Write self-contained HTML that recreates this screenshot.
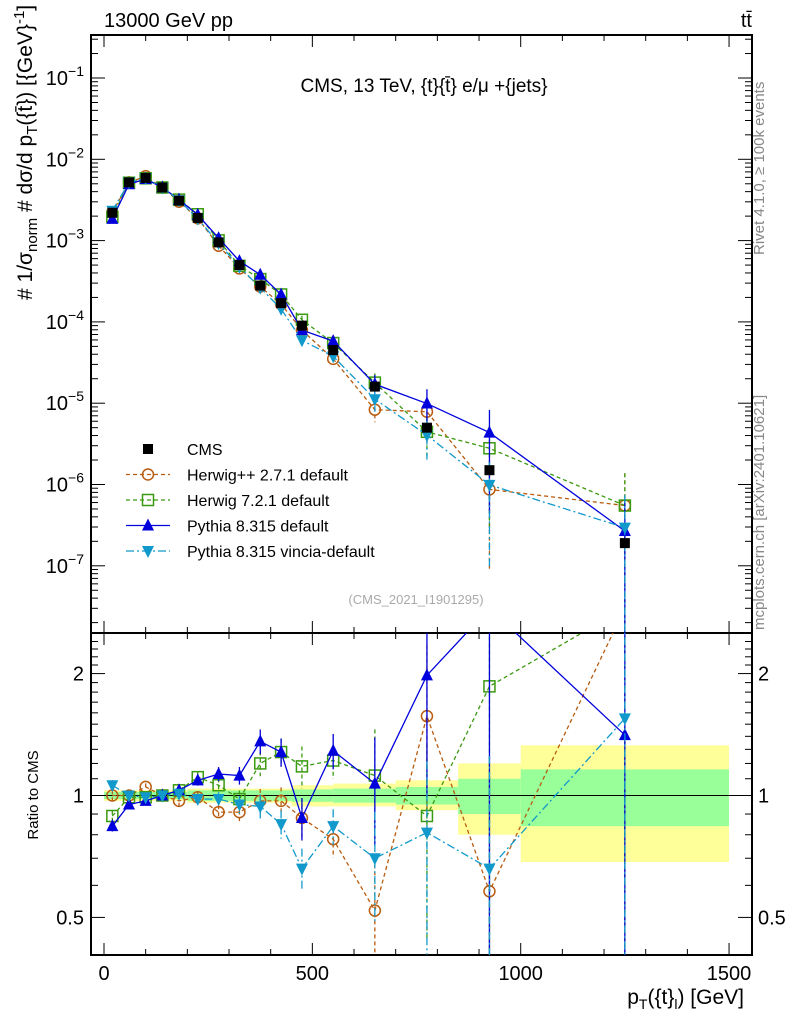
<!DOCTYPE html>
<html><head><meta charset="utf-8"><style>
html,body{margin:0;background:#fff;overflow:hidden;width:786px;height:1024px}
svg{display:block;font-family:"Liberation Sans",sans-serif}
</style></head><body>
<svg id="c" width="786" height="1024" viewBox="0 0 786 1024" xmlns="http://www.w3.org/2000/svg">
<g id="bands"></g>
<g id="grid"></g>
<g id="series"></g>
<text x="104" y="27" font-size="20">13000 GeV pp</text>
<text x="752" y="27" font-size="20" text-anchor="end">tt̄</text>
<text x="424" y="92" font-size="19" text-anchor="middle">CMS, 13 TeV, {t}{t̄} e/μ +{jets}</text>
<text x="416" y="604" font-size="13" fill="#aaa" text-anchor="middle">(CMS_2021_I1901295)</text>
<text transform="translate(764,255) rotate(-90)" font-size="15" fill="#888">Rivet 4.1.0, ≥ 100k events</text>
<text transform="translate(764,630) rotate(-90)" font-size="15" fill="#888">mcplots.cern.ch [arXiv:2401.10621]</text>
<text transform="translate(32,300) rotate(-90)" font-size="21"># 1/σ<tspan font-size="15" dy="5">norm</tspan><tspan dy="-5"> # dσ/d p</tspan><tspan font-size="15" dy="5">T</tspan><tspan dy="-5">({t̄}) [{GeV}</tspan><tspan font-size="15" dy="-8">-1</tspan><tspan dy="8">]</tspan></text>
<text transform="translate(38,795) rotate(-90)" font-size="15" text-anchor="middle">Ratio to CMS</text>
<text x="744" y="1004" font-size="21" text-anchor="end">p<tspan font-size="14" dy="5">T</tspan><tspan dy="-5">({t}</tspan><tspan font-size="14" dy="5">l</tspan><tspan dy="-5">) [GeV]</tspan></text>
<g id="legend"></g>
</svg>
<script>
const xs = [20,60,100,140,180,225,275,325,375,425,475,550,650,775,925,1250];
const cms = [2.2e-3,5.2e-3,5.9e-3,4.5e-3,3.1e-3,1.9e-3,9.5e-4,5.0e-4,2.8e-4,1.7e-4,9e-5,4.5e-5,1.6e-5,5e-6,1.5e-6,1.9e-7];
const rHerwigPP = [1.0,1.0,1.05,1.0,0.97,0.99,0.91,0.91,0.97,0.97,0.88,0.78,0.52,1.57,0.58,2.9];
const rHerwig7 = [0.89,0.99,0.99,1.0,1.03,1.11,1.06,0.98,1.2,1.28,1.18,1.22,1.12,0.89,1.86,2.9];
const rPythia = [0.84,0.95,0.97,1.0,1.03,1.09,1.13,1.12,1.36,1.28,0.88,1.29,1.07,1.98,2.9,1.41];
const rVincia = [1.06,1.0,0.99,1.0,1.01,0.98,0.98,0.95,0.94,0.85,0.66,0.84,0.70,0.81,0.66,1.55];
const errRel = [0.03,0.02,0.02,0.02,0.03,0.03,0.04,0.05,0.07,0.08,0.12,0.1,0.3,0.5,0.9,1.5];
const bandEdges = [0,200,450,550,700,850,1000,1500];
const bandYellowHi = [1.03,1.04,1.06,1.07,1.09,1.2,1.33];
const bandYellowLo = [0.97,0.96,0.94,0.94,0.92,0.8,0.685];
const bandGreenHi = [1.02,1.03,1.035,1.04,1.05,1.1,1.16];
const bandGreenLo = [0.98,0.97,0.965,0.96,0.95,0.9,0.84];
const xTicks = [0,500,1000,1500];
const yDecades = [-7,-6,-5,-4,-3,-2,-1];
const rTicks = [0.5,1,2];

const NS="http://www.w3.org/2000/svg";
const L=91,R=752,T=35,MB=633,B=955;
const X=v=>104+v*0.4167;
const Y=v=>78+(-1-Math.log10(v))*81.3;
const RY=v=>795.5-Math.log10(v)*405;
function mk(tag,attrs,parent){const e=document.createElementNS(NS,tag);for(const k in attrs)e.setAttribute(k,attrs[k]);document.getElementById(parent).appendChild(e);return e;}

for(let i=0;i<bandYellowHi.length;i++){
  const x1=X(bandEdges[i]),x2=X(bandEdges[i+1]);
  let e=mk('rect',{x:x1,y:RY(bandYellowHi[i]),width:x2-x1,height:RY(bandYellowLo[i])-RY(bandYellowHi[i]),fill:'#ffff99'},'bands');
  
  
  e=mk('rect',{x:x1,y:RY(bandGreenHi[i]),width:x2-x1,height:RY(bandGreenLo[i])-RY(bandGreenHi[i]),fill:'#99ff99'},'bands');
  
  
}
mk('rect',{x:L,y:T,width:R-L,height:MB-T,fill:'none',stroke:'#000','stroke-width':2},'grid');
mk('rect',{x:L,y:MB,width:R-L,height:B-MB,fill:'none',stroke:'#000','stroke-width':2},'grid');
mk('line',{x1:L,x2:R,y1:RY(1),y2:RY(1),stroke:'#000','stroke-width':1},'grid');
for(let v=0;v<=1550;v+=100){
  const big=v%500===0,x=X(v);if(x>R)break;
  for(const [y0,d] of [[T,1],[MB,-1],[MB,1],[B,-1]]){
    mk('line',{x1:x,x2:x,y1:y0,y2:y0+d*(big?12:6),stroke:'#000'},'grid');
  }
}
xTicks.forEach(v=>{const t=mk('text',{x:X(v),y:980,'font-size':20,'text-anchor':'middle'},'grid');t.textContent=v;

});
for(let d=-8;d<=-1;d++){
  for(let m=1;m<10;m++){
    const y=Y(m*Math.pow(10,d));if(y<T||y>MB)continue;
    const w=m===1?14:7;
    mk('line',{x1:L,x2:L+w,y1:y,y2:y,stroke:'#000'},'grid');
    mk('line',{x1:R,x2:R-w,y1:y,y2:y,stroke:'#000'},'grid');
  }
}
yDecades.forEach(d=>{const t=mk('text',{x:84,y:Y(Math.pow(10,d))+7,'font-size':20,'text-anchor':'end'},'grid');
t.innerHTML='10<tspan font-size="14" dy="-9">−'+(-d)+'</tspan>';

});
for(let v=0.4;v<=2.5;v+=0.1){
  const y=RY(v);if(y<MB||y>B)continue;
  const big=[0.5,1,2].some(q=>Math.abs(q-v)<1e-6);
  mk('line',{x1:L,x2:L+(big?14:7),y1:y,y2:y,stroke:'#000'},'grid');
  mk('line',{x1:R,x2:R-(big?14:7),y1:y,y2:y,stroke:'#000'},'grid');
}
rTicks.forEach(v=>{for(const [x,a] of [[84,'end'],[758,'start']]){const t=mk('text',{x:x,y:RY(v)+7,'font-size':20,'text-anchor':a},'grid');t.textContent=v;

}});

const series=[
 {name:'herwigpp',r:rHerwigPP,c:'#b85c10',dash:'4,3',m:'circle',label:'Herwig++ 2.7.1 default'},
 {name:'herwig7',r:rHerwig7,c:'#3a9a10',dash:'4,3',m:'square',label:'Herwig 7.2.1 default'},
 {name:'pythia',r:rPythia,c:'#0000dd',dash:'',m:'up',label:'Pythia 8.315 default'},
 {name:'vincia',r:rVincia,c:'#1199cc',dash:'8,3,2,3',m:'down',label:'Pythia 8.315 vincia-default'}
];
function marker(m,x,y,c,g,nm){
  let e;
  if(m==='circle')e=mk('circle',{cx:x,cy:y,r:5.5,fill:'none',stroke:c,'stroke-width':1.5},g);
  else if(m==='square')e=mk('rect',{x:x-5.5,y:y-5.5,width:11,height:11,fill:'none',stroke:c,'stroke-width':1.5},g);
  else if(m==='up')e=mk('path',{d:`M${x},${y-7}L${x+6},${y+5}L${x-6},${y+5}Z`,fill:c},g);
  else if(m==='down')e=mk('path',{d:`M${x},${y+7}L${x+6},${y-5}L${x-6},${y-5}Z`,fill:c},g);
  else e=mk('rect',{x:x-5,y:y-5,width:10,height:10,fill:c},g);
  
  
}
const clip=mk('clipPath',{id:'cm'},'series');const cr=document.createElementNS(NS,'rect');cr.setAttribute('x',L);cr.setAttribute('y',T);cr.setAttribute('width',R-L);cr.setAttribute('height',MB-T);clip.appendChild(cr);
const clip2=mk('clipPath',{id:'cr'},'series');const cr2=document.createElementNS(NS,'rect');cr2.setAttribute('x',L);cr2.setAttribute('y',MB);cr2.setAttribute('width',R-L);cr2.setAttribute('height',B-MB);clip2.appendChild(cr2);
series.forEach(s=>{
  const gm=mk('g',{'clip-path':'url(#cm)'},'series');gm.id='m-'+s.name;
  
  
  const gr=mk('g',{'clip-path':'url(#cr)'},'series');gr.id='r-'+s.name;
  
  
  const vals=xs.map((x,i)=>cms[i]*s.r[i]);
  mk('polyline',{points:xs.map((x,i)=>X(x)+','+Y(vals[i])).join(' '),fill:'none',stroke:s.c,'stroke-width':1.3,'stroke-dasharray':s.dash},gm.id);
  mk('polyline',{points:xs.map((x,i)=>X(x)+','+RY(s.r[i])).join(' '),fill:'none',stroke:s.c,'stroke-width':1.3,'stroke-dasharray':s.dash},gr.id);
  xs.forEach((x,i)=>{
    const e=errRel[i];
    mk('line',{x1:X(x),x2:X(x),y1:RY(s.r[i]*(1+e)),y2:RY(Math.max(s.r[i]*(1-e),0.01)),stroke:s.c,'stroke-width':1.3,'stroke-dasharray':s.dash},gr.id);
    mk('line',{x1:X(x),x2:X(x),y1:Y(vals[i]*(1+e)),y2:Y(Math.max(vals[i]*(1-e),1e-9)),stroke:s.c,'stroke-width':1.3,'stroke-dasharray':s.dash},gm.id);
    marker(s.m,X(x),Y(vals[i]),s.c,gm.id,s.name+'-point');
    marker(s.m,X(x),RY(s.r[i]),s.c,gr.id,s.name+'-ratio-point');
  });
});
xs.forEach((x,i)=>marker('cms',X(x),Y(cms[i]),'#000','series','cms-point'));
const items=[{c:'#000',m:'cms',dash:'',label:'CMS'}].concat(series);
items.forEach((s,i)=>{
  const y=449+i*25.5;
  if(s.m!=='cms')mk('line',{x1:126,x2:170,y1:y,y2:y,stroke:s.c,'stroke-width':1.3,'stroke-dasharray':s.dash},'legend');
  marker(s.m,148,y,s.c,'legend','legend-marker');
  const t=mk('text',{x:187,y:y+6,'font-size':16},'legend');t.textContent=s.label;
  
  
});
</script>
</body></html>
